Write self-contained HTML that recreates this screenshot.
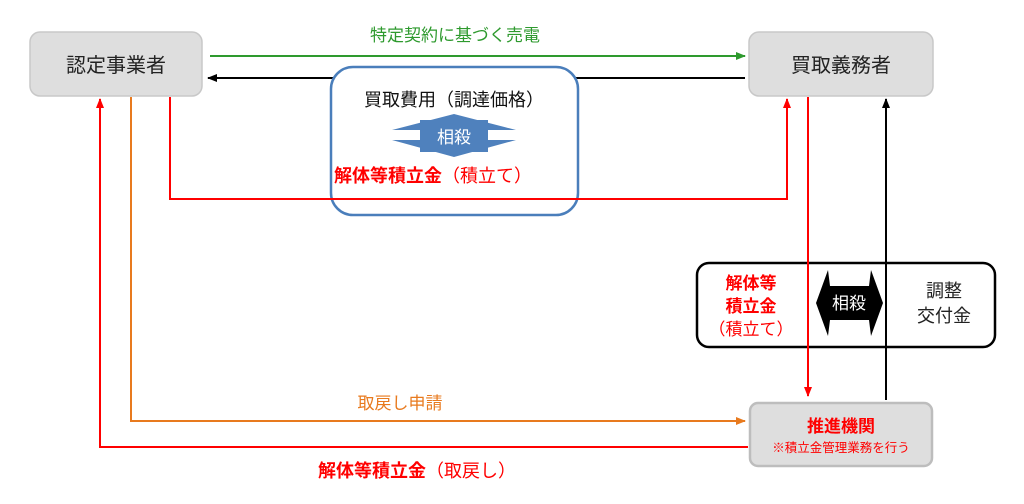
<!DOCTYPE html>
<html><head><meta charset="utf-8"><style>
html,body{margin:0;padding:0;background:#fff;}
svg{display:block;font-family:"Liberation Sans","Noto Sans CJK JP",sans-serif;}
</style></head><body>
<svg width="1024" height="504" viewBox="0 0 1024 504" xmlns="http://www.w3.org/2000/svg">
<defs>
<marker id="ak" markerWidth="10" markerHeight="10" refX="9" refY="5" orient="auto" markerUnits="userSpaceOnUse"><path d="M0,1 L10,5 L0,9 Z" fill="#000"/></marker>
<marker id="ar" markerWidth="10" markerHeight="10" refX="9" refY="5" orient="auto" markerUnits="userSpaceOnUse"><path d="M0,1 L10,5 L0,9 Z" fill="#ff0000"/></marker>
<marker id="ag" markerWidth="10" markerHeight="10" refX="9" refY="5" orient="auto" markerUnits="userSpaceOnUse"><path d="M0,1 L10,5 L0,9 Z" fill="#2e9a2e"/></marker>
<marker id="ao" markerWidth="10" markerHeight="10" refX="9" refY="5" orient="auto" markerUnits="userSpaceOnUse"><path d="M0,1 L10,5 L0,9 Z" fill="#e87a1e"/></marker>
</defs>
<rect x="30" y="32" width="172" height="64" rx="10" fill="#dedede" stroke="#c8c8c8" stroke-width="1.5"/>
<text x="116" y="72" font-size="20" text-anchor="middle" fill="#222">認定事業者</text>
<rect x="749" y="32" width="184" height="64" rx="10" fill="#dedede" stroke="#c8c8c8" stroke-width="1.5"/>
<text x="841" y="72" font-size="20" text-anchor="middle" fill="#222">買取義務者</text>

<line x1="210" y1="56" x2="745" y2="56" stroke="#2e9a2e" stroke-width="2" marker-end="url(#ag)"/>
<text x="455" y="41" font-size="17" text-anchor="middle" fill="#2e9a2e">特定契約に基づく売電</text>
<line x1="745" y1="78" x2="208" y2="78" stroke="#000" stroke-width="2" marker-end="url(#ak)"/>

<rect x="331" y="67" width="247" height="148" rx="22" fill="#fff" stroke="#4a7ebb" stroke-width="2.5"/>
<polyline points="170,97 170,199 787,199 787,99" fill="none" stroke="#ff0000" stroke-width="2" marker-end="url(#ar)"/>

<text x="454" y="106" font-size="18" text-anchor="middle" fill="#111">買取費用（調達価格）</text>
<path d="M392,130 L454,114 L516,130 L488,130 L488,140 L516,140 L454,157 L392,140 L420,140 L420,130 Z" fill="#4f81bd"/>
<rect x="420" y="120" width="68" height="32" fill="#4f81bd"/>
<text x="454" y="143" font-size="17" text-anchor="middle" fill="#fff">相殺</text>
<text x="334" y="182" font-size="18" fill="#ff0000"><tspan font-weight="bold">解体等積立金</tspan>（積立て）</text>

<polyline points="131,97 131,421 745,421" fill="none" stroke="#e87a1e" stroke-width="2" marker-end="url(#ao)"/>
<text x="400" y="409" font-size="17" text-anchor="middle" fill="#e87a1e">取戻し申請</text>
<polyline points="748,447 100,447 100,99" fill="none" stroke="#ff0000" stroke-width="2" marker-end="url(#ar)"/>
<text x="318" y="477" font-size="18" fill="#ff0000"><tspan font-weight="bold">解体等積立金</tspan>（取戻し）</text>

<rect x="697" y="263" width="298" height="84" rx="12" fill="#fff" stroke="#000" stroke-width="2.5"/>
<line x1="808" y1="97" x2="808" y2="396" stroke="#ff0000" stroke-width="2" marker-end="url(#ar)"/>
<line x1="886" y1="400" x2="886" y2="99" stroke="#000" stroke-width="2" marker-end="url(#ak)"/>

<text x="751" y="289" font-size="17" font-weight="bold" text-anchor="middle" fill="#ff0000">解体等</text>
<text x="751" y="312" font-size="17" font-weight="bold" text-anchor="middle" fill="#ff0000">積立金</text>
<text x="751" y="335" font-size="17" text-anchor="middle" fill="#ff0000">（積立て）</text>
<path d="M816,303 L828,270 L830,286 L869,286 L871,270 L883,303 L871,336 L869,320 L830,320 L828,336 Z" fill="#000"/>
<text x="849" y="309" font-size="17" text-anchor="middle" fill="#fff">相殺</text>
<text x="944" y="297" font-size="18" text-anchor="middle" fill="#222">調整</text>
<text x="944" y="322" font-size="18" text-anchor="middle" fill="#222">交付金</text>

<rect x="750" y="403" width="182" height="63" rx="8" fill="#dedede" stroke="#bdbdbd" stroke-width="2.5"/>
<text x="841" y="432" font-size="17" font-weight="bold" text-anchor="middle" fill="#ff0000">推進機関</text>
<text x="841" y="452" font-size="12.5" text-anchor="middle" fill="#ff0000">※積立金管理業務を行う</text>
</svg>
</body></html>
